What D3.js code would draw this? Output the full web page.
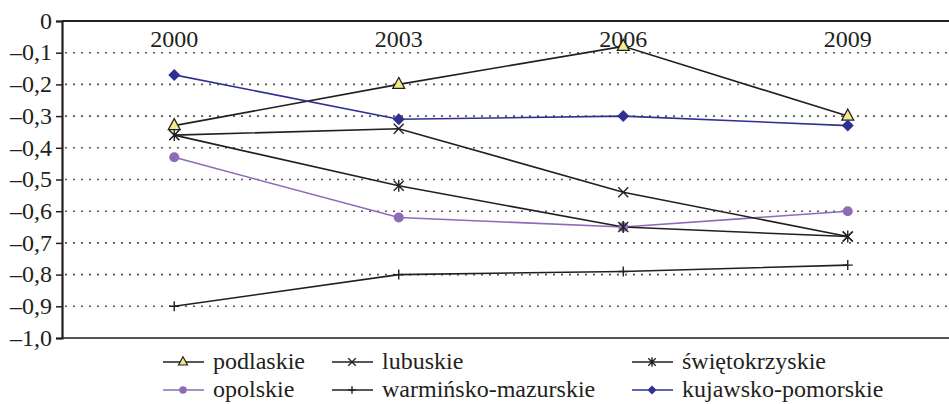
<!DOCTYPE html>
<html><head><meta charset="utf-8">
<script src="https://cdn.jsdelivr.net/npm/d3@7"></script>
<style>body{margin:0;background:#fff}svg{display:block}text{font-family:"Liberation Serif","Times New Roman",serif;fill:#231f20}</style>
</head><body><svg id="c" width="949" height="404"></svg>
<script>
const years = ["2000","2003","2006","2009"];
const yTicks = [0,-0.1,-0.2,-0.3,-0.4,-0.5,-0.6,-0.7,-0.8,-0.9,-1.0];
const podlaskie = [-0.33,-0.20,-0.08,-0.30];
const lubuskie = [-0.36,-0.34,-0.54,-0.68];
const swietokrzyskie = [-0.36,-0.52,-0.65,-0.68];
const opolskie = [-0.43,-0.62,-0.65,-0.60];
const warminsko = [-0.90,-0.80,-0.79,-0.77];
const kujawsko = [-0.17,-0.31,-0.30,-0.33];
const seriesNames = ["podlaskie","lubuskie","świętokrzyskie","opolskie","warmińsko-mazurskie","kujawsko-pomorskie"];

const series = [
  {name:seriesNames[0], values:podlaskie, color:"#231f20", marker:"triangle"},
  {name:seriesNames[1], values:lubuskie, color:"#231f20", marker:"x"},
  {name:seriesNames[2], values:swietokrzyskie, color:"#231f20", marker:"star"},
  {name:seriesNames[3], values:opolskie, color:"#8d6cb5", marker:"circle"},
  {name:seriesNames[4], values:warminsko, color:"#231f20", marker:"plus"},
  {name:seriesNames[5], values:kujawsko, color:"#2e3192", marker:"diamond"}
];

const FS = "24px";
const svg = d3.select("#c");
const L = 62, R = 960, T = 21, B = 338;
const x = d3.scaleBand().domain(years).range([L, R]);
const y = d3.scaleLinear().domain([-1, 0]).range([B, T]);
const cx = d => x(d) + x.bandwidth()/2;

// grid
svg.append("g").selectAll("line").data(yTicks.filter(v => v < 0 && v > -1)).join("line")
  .attr("x1", L+3).attr("x2", 949).attr("y1", d => y(d)).attr("y2", d => y(d))
  .attr("stroke", "#555").attr("stroke-width", 1.6).attr("stroke-dasharray", "2,6");

// frame lines
svg.append("line").attr("x1", L).attr("x2", 949).attr("y1", y(0)).attr("y2", y(0)).attr("stroke", "#231f20").attr("stroke-width", 2);
svg.append("line").attr("x1", L).attr("x2", 949).attr("y1", y(-1)).attr("y2", y(-1)).attr("stroke", "#555").attr("stroke-width", 2);

// y axis
const yAxis = d3.axisLeft(y).tickValues(yTicks).tickSize(6).tickPadding(4)
  .tickFormat(d => d === 0 ? "0" : "\u2013" + d3.format(".1f")(Math.abs(d)).replace(".", ","));
const ga = svg.append("g").attr("transform", `translate(${L},0)`).call(yAxis);
ga.attr("font-family", null).attr("font-size", null);
ga.select(".domain").attr("stroke", "#231f20").attr("stroke-width", 2.2);
ga.selectAll(".tick line").attr("stroke", "#231f20").attr("stroke-width", 1.5);
ga.selectAll("text").style("font-size", FS).attr("fill", "#231f20").attr("dy", "0.3em");

// year labels inside top
const gx = svg.append("g").attr("transform", `translate(0,${T})`).call(d3.axisBottom(x).tickSize(0).tickPadding(0));
gx.attr("font-family", null).attr("font-size", null);
gx.select(".domain").remove();
gx.selectAll("text").style("font-size", FS).attr("fill", "#231f20").attr("y", 26).attr("dy", null);

function marker(g, type, color, px, py, s) {
  s = s || 1;
  if (type === "triangle") {
    g.append("path").attr("d", `M${px},${py-7*s}L${px+6*s},${py+4*s}L${px-6*s},${py+4*s}Z`)
      .attr("fill", "#f4e98c").attr("stroke", "#231f20").attr("stroke-width", 1.2);
  } else if (type === "circle") {
    g.append("circle").attr("cx", px).attr("cy", py).attr("r", 5*s).attr("fill", color);
  } else if (type === "diamond") {
    g.append("path").attr("d", `M${px},${py-6*s}L${px+6*s},${py}L${px},${py+6*s}L${px-6*s},${py}Z`).attr("fill", color);
  } else if (type === "x") {
    const r = 5*s;
    g.append("path").attr("d", `M${px-r},${py-r}L${px+r},${py+r}M${px-r},${py+r}L${px+r},${py-r}`)
      .attr("stroke", color).attr("stroke-width", 1.4);
  } else if (type === "star") {
    const r = 5*s;
    g.append("path").attr("d", `M${px-r},${py-r}L${px+r},${py+r}M${px-r},${py+r}L${px+r},${py-r}M${px},${py-r-1}L${px},${py+r+1}`)
      .attr("stroke", color).attr("stroke-width", 1.4);
  } else if (type === "plus") {
    const r = 5*s;
    g.append("path").attr("d", `M${px-r},${py}L${px+r},${py}M${px},${py-r}L${px},${py+r}`)
      .attr("stroke", color).attr("stroke-width", 1.4);
  }
}

const line = d3.line().x((d,i) => cx(years[i])).y(d => y(d));
const order = [4,3,2,1,0,5];
order.forEach(k => {
  const s = series[k];
  svg.append("path").attr("d", line(s.values)).attr("fill", "none")
    .attr("stroke", s.color).attr("stroke-width", 1.6);
});
order.forEach(k => {
  const s = series[k];
  const g = svg.append("g");
  s.values.forEach((v,i) => marker(g, s.marker, s.color, cx(years[i]), y(v)));
});

// legend
const legPos = [[163,362],[332,362],[632,362],[163,390],[332,390],[632,390]];
series.forEach((s,i) => {
  const [lx, ly] = legPos[i];
  const g = svg.append("g");
  g.append("line").attr("x1", lx).attr("x2", lx+41).attr("y1", ly).attr("y2", ly).attr("stroke", s.color).attr("stroke-width", 1.6);
  marker(g, s.marker, s.color, lx+20, ly, 0.75);
  g.append("text").attr("x", lx+50).attr("y", ly).attr("dy", "0.3em").style("font-size", FS).text(s.name);
});
</script></body></html>
